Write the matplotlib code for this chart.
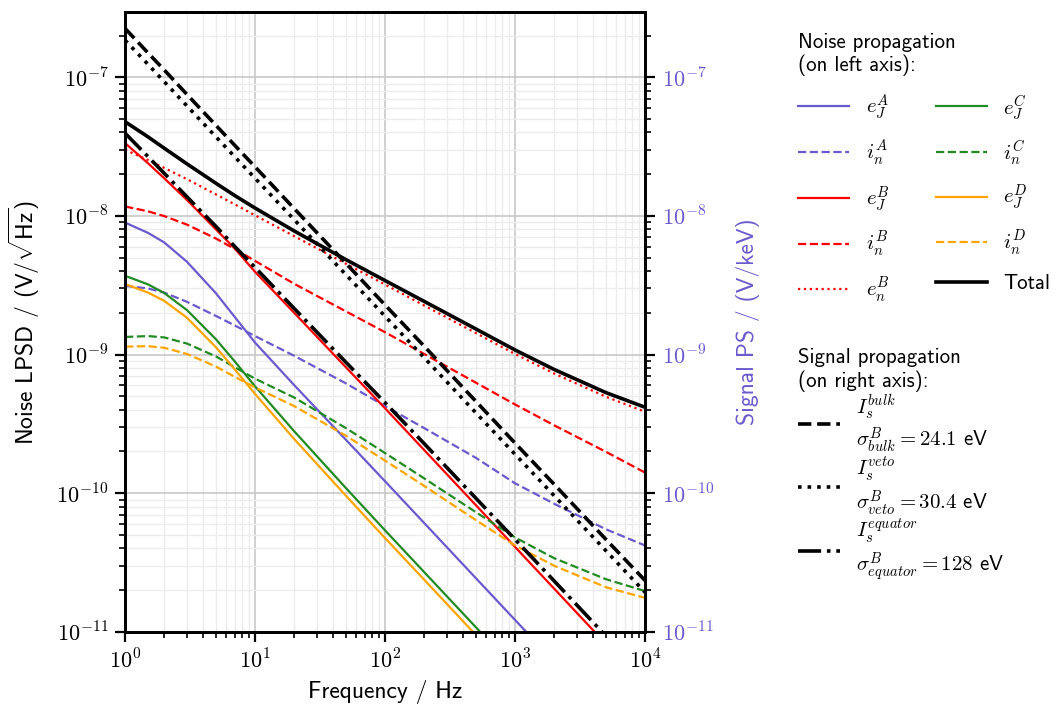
import math

import matplotlib
matplotlib.use("Agg")
import matplotlib.pyplot as plt
from matplotlib.ticker import FuncFormatter, NullFormatter

plt.rcParams["mathtext.fontset"] = "cm"
plt.rcParams["font.family"] = ["cmss10", "DejaVu Sans"]
plt.rcParams["axes.unicode_minus"] = False

# frequencies (Hz) at which the curves were read
freq = [1, 1.5, 2, 3, 5, 7, 10, 20, 50, 100, 200, 500, 1000, 2000, 5000, 10000]

# noise LPSD, V/sqrt(Hz)
eJ_A = [8.95e-9, 7.55e-9, 6.44e-9, 4.66e-9, 2.77e-9, 1.86e-9, 1.22e-9, 6.02e-10, 2.43e-10, 1.22e-10,
        6.1e-11, 2.44e-11, 1.22e-11, 6.1e-12, 2.44e-12, 1.22e-12]
in_A = [3.13e-9, 3.0e-9, 2.8e-9, 2.4e-9, 1.9e-9, 1.62e-9, 1.36e-9, 9.8e-10, 6.2e-10, 4.25e-10,
        2.95e-10, 1.8e-10, 1.18e-10, 8.4e-11, 5.5e-11, 4.2e-11]
eJ_B = [3.35e-8, 2.4e-8, 1.87e-8, 1.3e-8, 8.0e-9, 5.8e-9, 3.95e-9, 2.0e-9, 8.1e-10, 4.1e-10,
        2.05e-10, 8.2e-11, 4.1e-11, 2.05e-11, 8.2e-12, 4.1e-12]
in_B = [1.17e-8, 1.08e-8, 9.98e-9, 8.65e-9, 6.87e-9, 5.77e-9, 4.74e-9, 3.24e-9, 2.05e-9, 1.45e-9,
        1.01e-9, 6.27e-10, 4.37e-10, 3.09e-10, 1.99e-10, 1.41e-10]
en_B = [3.0e-8, 2.53e-8, 2.22e-8, 1.84e-8, 1.43e-8, 1.21e-8, 1.01e-8, 7.15e-9, 4.52e-9, 3.2e-9,
        2.26e-9, 1.43e-9, 1.01e-9, 7.3e-10, 4.97e-10, 3.87e-10]
eJ_C = [3.7e-9, 3.21e-9, 2.78e-9, 2.09e-9, 1.29e-9, 8.9e-10, 5.9e-10, 2.8e-10, 1.09e-10, 5.4e-11,
        2.7e-11, 1.08e-11, 5.4e-12, 2.7e-12, 1.08e-12, 5.4e-13]
in_C = [1.34e-9, 1.36e-9, 1.33e-9, 1.2e-9, 9.7e-10, 8.1e-10, 6.7e-10, 4.9e-10, 2.95e-10, 1.95e-10,
        1.28e-10, 7.3e-11, 4.8e-11, 3.4e-11, 2.4e-11, 1.97e-11]
eJ_D = [3.23e-9, 2.8e-9, 2.44e-9, 1.84e-9, 1.13e-9, 7.8e-10, 5.2e-10, 2.46e-10, 9.6e-11, 4.75e-11,
        2.38e-11, 9.5e-12, 4.75e-12, 2.38e-12, 9.5e-13, 4.75e-13]
in_D = [1.14e-9, 1.15e-9, 1.12e-9, 1.01e-9, 8.2e-10, 6.9e-10, 5.8e-10, 4.25e-10, 2.6e-10, 1.72e-10,
        1.13e-10, 6.4e-11, 4.2e-11, 3.0e-11, 2.1e-11, 1.76e-11]
total = [4.78e-8, 3.72e-8, 3.08e-8, 2.37e-8, 1.72e-8, 1.4e-8, 1.14e-8, 7.79e-9, 4.84e-9, 3.42e-9,
         2.42e-9, 1.53e-9, 1.08e-9, 7.81e-10, 5.32e-10, 4.17e-10]

# signal PS, V/keV
sig_bulk = [2.25e-7, 1.5e-7, 1.13e-7, 7.5e-8, 4.5e-8, 3.22e-8, 2.26e-8, 1.13e-8, 4.55e-9, 2.28e-9,
            1.15e-9, 4.6e-10, 2.3e-10, 1.16e-10, 4.65e-11, 2.35e-11]
sig_veto = [1.85e-7, 1.24e-7, 9.3e-8, 6.2e-8, 3.72e-8, 2.66e-8, 1.87e-8, 9.4e-9, 3.77e-9, 1.89e-9,
            9.5e-10, 3.8e-10, 1.91e-10, 9.6e-11, 3.85e-11, 1.93e-11]
sig_equator = [3.95e-8, 2.68e-8, 2.03e-8, 1.37e-8, 8.4e-9, 6.0e-9, 4.25e-9, 2.15e-9, 8.8e-10, 4.5e-10,
               2.28e-10, 9.2e-11, 4.65e-11, 2.33e-11, 9.35e-12, 4.7e-12]
sig_names = ["bulk", "veto", "equator"]
sigma_vals = ["24.1", "30.4", "128"]

x_ticks = [1, 10, 100, 1000, 10000]
y_ticks = [1e-11, 1e-10, 1e-9, 1e-8, 1e-7]

PURPLE, RED, GREEN, ORANGE = "slateblue", "red", "forestgreen", "orange"

fig = plt.figure(figsize=(10.6, 7.14), dpi=100)
ax = fig.add_axes([0.118, 0.115, 0.4905, 0.868])
ax.set_xscale("log")
ax.set_yscale("log")

lw = 1.6
noise = [
    (eJ_A, PURPLE, "-", lw, r"$e_J^A$"),
    (in_A, PURPLE, "--", lw, r"$i_n^A$"),
    (eJ_B, RED, "-", lw, r"$e_J^B$"),
    (in_B, RED, "--", lw, r"$i_n^B$"),
    (en_B, RED, ":", lw, r"$e_n^B$"),
    (eJ_C, GREEN, "-", lw, r"$e_J^C$"),
    (in_C, GREEN, "--", lw, r"$i_n^C$"),
    (eJ_D, ORANGE, "-", lw, r"$e_J^D$"),
    (in_D, ORANGE, "--", lw, r"$i_n^D$"),
    (total, "black", "-", 2.6, "Total"),
]
h_noise = []
for vals, c, ls, w, lab in noise:
    h, = ax.plot(freq, vals, color=c, ls=ls, lw=w, label=lab)
    h_noise.append(h)

pow_fmt = FuncFormatter(lambda v, pos: r"$10^{%d}$" % round(math.log10(v)))

ax.set_xticks(x_ticks)
ax.set_yticks(y_ticks)
ax.set_xlim(1, 1e4)
ax.set_ylim(1e-11, 2.95e-7)
ax.grid(True, which="major", color="#c8c8c8", lw=1.2)
ax.grid(True, which="minor", color="#ececec", lw=1.0)
ax.set_axisbelow(True)
ax.xaxis.set_major_formatter(pow_fmt)
ax.yaxis.set_major_formatter(pow_fmt)
ax.xaxis.set_minor_formatter(NullFormatter())
ax.yaxis.set_minor_formatter(NullFormatter())
ax.set_xlabel("Frequency / Hz", fontsize=17, labelpad=5)
ax.set_ylabel(r"Noise LPSD / (V/$\sqrt{\mathsf{Hz}}$)", fontsize=17, labelpad=10)
ax.tick_params(labelsize=16, width=1.6, length=7, pad=5)
ax.tick_params(which="minor", width=1.2, length=4)
for s in ax.spines.values():
    s.set_linewidth(2)

ax2 = ax.twinx()
ax2.set_yscale("log")
h_sig = []
for vals, ls in zip([sig_bulk, sig_veto, sig_equator], ["--", ":", "-."]):
    h, = ax2.plot(freq, vals, color="black", ls=ls, lw=2.6)
    h_sig.append(h)
ax2.set_yticks(y_ticks)
ax2.set_xlim(1, 1e4)
ax2.set_ylim(1e-11, 2.95e-7)
ax2.yaxis.set_major_formatter(pow_fmt)
ax2.yaxis.set_minor_formatter(NullFormatter())
ax2.set_ylabel("Signal PS / (V/keV)", fontsize=17, color=PURPLE, labelpad=16)
ax2.tick_params(labelsize=16, width=1.6, length=7, pad=5, labelcolor=PURPLE)
ax2.tick_params(which="minor", width=1.2, length=4)
for s in ax2.spines.values():
    s.set_linewidth(2)

sig_labels = ["$I_s^{%s}$\n$\\sigma^B_{%s} = %s$ eV" % (n, n, v) for n, v in zip(sig_names, sigma_vals)]

leg1 = fig.legend(handles=h_noise, ncol=2, loc="upper left", bbox_to_anchor=(0.745, 0.966),
                  frameon=False, fontsize=15, title="Noise propagation\n(on left axis):",
                  title_fontsize=15, handlelength=2.45, labelspacing=0.78, columnspacing=2.2,
                  handletextpad=0.8, borderaxespad=0)
leg1._legend_box.align = "left"
leg2 = fig.legend(handles=h_sig, labels=sig_labels, loc="upper left", bbox_to_anchor=(0.745, 0.524),
                  frameon=False, fontsize=15, title="Signal propagation\n(on right axis):",
                  title_fontsize=15, handlelength=2.0, labelspacing=0.02, handletextpad=0.8,
                  borderaxespad=0)
leg2._legend_box.align = "left"

fig.savefig("out.png", dpi=100, facecolor="white")
